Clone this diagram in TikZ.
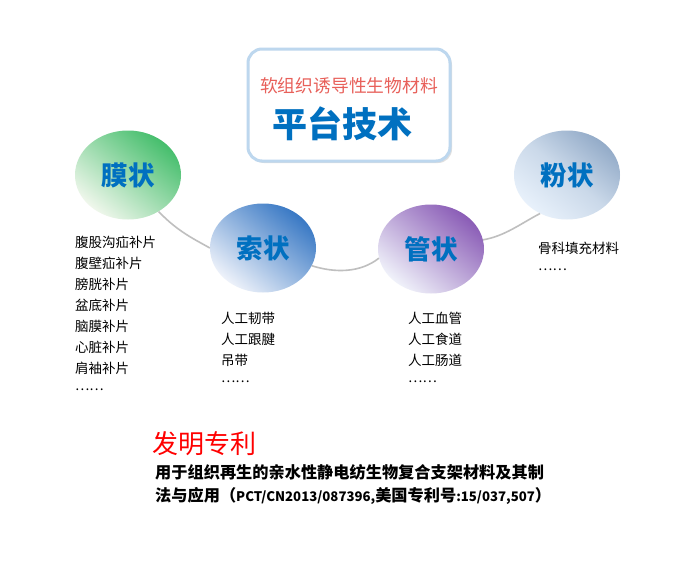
\documentclass[tikz,border=0pt]{standalone}
\usepackage{fontspec}
\setmainfont{Noto Sans CJK SC}
\usetikzlibrary{shadows,shapes.geometric}
\definecolor{tblue}{HTML}{0070C0}
\definecolor{tred}{HTML}{E8605A}
\definecolor{conn}{HTML}{BFBFBF}
\definecolor{boxline}{HTML}{BDD7EE}
\definecolor{gdark}{HTML}{45BE6C}
\definecolor{glight}{HTML}{F0F7EC}
\definecolor{bdark}{HTML}{3878C4}
\definecolor{blight}{HTML}{EEF2FA}
\definecolor{pdark}{HTML}{8A5CB6}
\definecolor{plight}{HTML}{F0F2FA}
\definecolor{fdark}{HTML}{93ABC8}
\definecolor{flight}{HTML}{E8F1FB}
\tikzset{
  blob/.style={ellipse, minimum width=106pt, minimum height=89pt, inner sep=0pt,
    text=tblue, font=\fontsize{26.5}{28}\selectfont\bfseries},
  item/.style={anchor=west, inner sep=0pt, font=\fontsize{13.5}{15}\selectfont},
  link/.style={draw=conn, line width=1.6pt},
  patent/.style={anchor=west, inner sep=0pt, font=\fontsize{16.2}{18}\selectfont\bfseries},
}
\newcommand{\latsz}[1]{{\fontsize{13.2}{15}\selectfont #1}}
\begin{document}
\begin{tikzpicture}[x=1pt,y=-1pt]
\useasboundingbox[fill=white] (0,0) rectangle (682,562);
% title box
\node[draw=boxline, line width=3pt, rounded corners=14pt, fill=white,
  minimum width=202pt, minimum height=112pt,
  drop shadow={shadow xshift=2pt, shadow yshift=-2pt, opacity=0.25}] (box) at (349,105) {};
\node[text=tred, font=\fontsize{17.8}{20}\selectfont, inner sep=0pt] (sub) at (349,86) {软组织诱导性生物材料};
\node[text=tblue, font=\fontsize{35}{38}\selectfont\bfseries, inner sep=0pt] (main) at (342,124) {平台技术};
% ellipses
\node[blob, top color=gdark, bottom color=glight, shading angle=-40] (mo) at (128,175) {膜状};
\node[blob, top color=bdark, bottom color=blight, shading angle=-40] (suo) at (263,248) {索状};
\node[blob, top color=pdark, bottom color=plight, shading angle=-40] (guan) at (431,249) {管状};
\node[blob, top color=fdark, bottom color=flight, middle color=fdark!35!flight, shading angle=-40] (fen) at (567,175) {粉状};
% connectors
\draw[link] (mo.-50) .. controls (178,232) and (196,240) .. (suo.west);
\draw[link] (suo.-20) .. controls (335,273) and (360,273) .. (guan.-170);
\draw[link] (guan.10) .. controls (505,236) and (520,224) .. (fen.-125);
% lists
\node[item] (m1) at (75,242) {腹股沟疝补片};
\node[item] (m2) at (75,263) {腹壁疝补片};
\node[item] (m3) at (75,284) {膀胱补片};
\node[item] (m4) at (75,305) {盆底补片};
\node[item] (m5) at (75,326) {脑膜补片};
\node[item] (m6) at (75,347) {心脏补片};
\node[item] (m7) at (75,368) {肩袖补片};
\node[item] (m8) at (75,390) {……};
\node[item] (s1) at (221,318) {人工韧带};
\node[item] (s2) at (221,339) {人工跟腱};
\node[item] (s3) at (221,360) {吊带};
\node[item] (s4) at (221,382) {……};
\node[item] (g1) at (408,318) {人工血管};
\node[item] (g2) at (408,339) {人工食道};
\node[item] (g3) at (408,360) {人工肠道};
\node[item] (g4) at (408,382) {……};
\node[item] (f1) at (538,248) {骨科填充材料};
\node[item] (f2) at (538,270) {……};
% patent
\node[anchor=west, inner sep=0pt, text=red, font=\fontsize{26}{28}\selectfont] (pt) at (152,444) {发明专利};
\node[patent] (p1) at (155,472) {用于组织再生的亲水性静电纺生物复合支架材料及其制};
\node[patent] (p2) at (155,496) {法与应用（\latsz{PCT/CN2013/087396,}美国专利号\latsz{:15/037,507}）};
\end{tikzpicture}
\end{document}
